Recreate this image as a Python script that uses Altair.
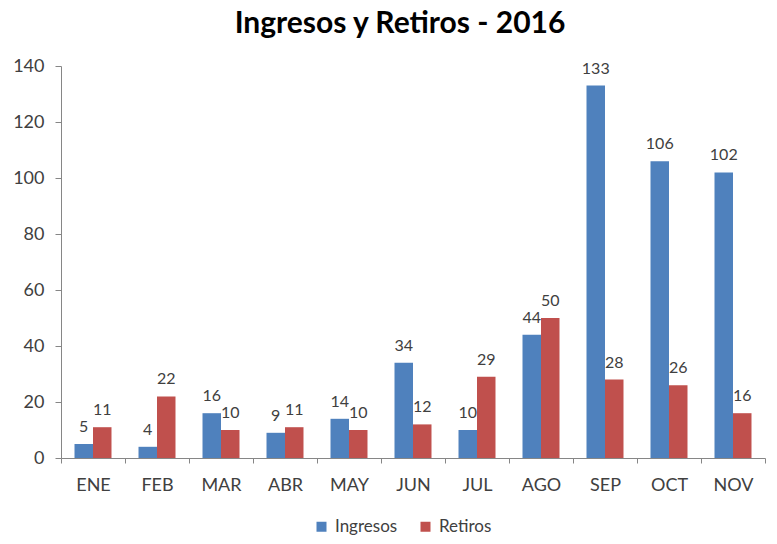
import altair as alt
import pandas as pd

months = ["ENE", "FEB", "MAR", "ABR", "MAY", "JUN", "JUL", "AGO", "SEP", "OCT", "NOV"]
ingresos = [5, 4, 16, 9, 14, 34, 10, 44, 133, 106, 102]
retiros = [11, 22, 10, 11, 10, 12, 29, 50, 28, 26, 16]
series = ["Ingresos", "Retiros"]
colors = ["#4F81BD", "#C0504D"]

rows = []
for m, a, b in zip(months, ingresos, retiros):
    rows.append({"mes": m, "serie": series[0], "valor": a})
    rows.append({"mes": m, "serie": series[1], "valor": b})
df = pd.DataFrame(rows)

FONT = "Lato"

x = alt.X("mes:N", sort=months, title=None,
          scale=alt.Scale(paddingInner=0, paddingOuter=0),
          axis=alt.Axis(labelAngle=0, tickBand="extent", labelFontSize=18,
                        labelColor="#404040", labelFont=FONT, labelPadding=13,
                        domainColor="#868686", tickColor="#868686", tickSize=5))
xo = alt.XOffset("serie:N", sort=series,
                 scale=alt.Scale(paddingInner=0, paddingOuter=0.73))
y = alt.Y("valor:Q", title=None,
          scale=alt.Scale(domain=[0, 140], nice=False),
          axis=alt.Axis(values=list(range(0, 141, 20)), grid=False, labelFontSize=18,
                        labelColor="#404040", labelFont=FONT, labelPadding=11,
                        domainColor="#868686", tickColor="#868686", tickSize=6))

bars = alt.Chart(df).mark_bar().encode(
    x=x, xOffset=xo, y=y,
    color=alt.Color("serie:N", sort=series,
                    scale=alt.Scale(domain=series, range=colors),
                    legend=alt.Legend(title=None, orient="none", direction="horizontal",
                                      legendX=252, legendY=452, symbolType="square",
                                      symbolSize=100, labelFontSize=17, labelFont=FONT,
                                      labelColor="#404040", columnPadding=19,
                                      labelOffset=5, symbolStrokeWidth=0)),
)

labels = alt.Chart(df).mark_text(dy=-12, baseline="alphabetic", fontSize=16, font=FONT,
                                 color="#404040").encode(
    x=x, xOffset=xo, y=y, text="valor:Q"
)

chart = (bars + labels).properties(
    width=704, height=392,
    padding={"left": 53, "top": 58, "right": 4, "bottom": 78},
    autosize=alt.AutoSizeParams(type="none"),
    title=alt.TitleParams("Ingresos y Retiros - 2016", fontSize=30, font=FONT,
                          fontWeight="bold", color="#000000", anchor="middle",
                          offset=18, dx=-13),
).configure_view(stroke=None)

chart.save("out.html", embed_options={"renderer": "svg", "actions": False})
